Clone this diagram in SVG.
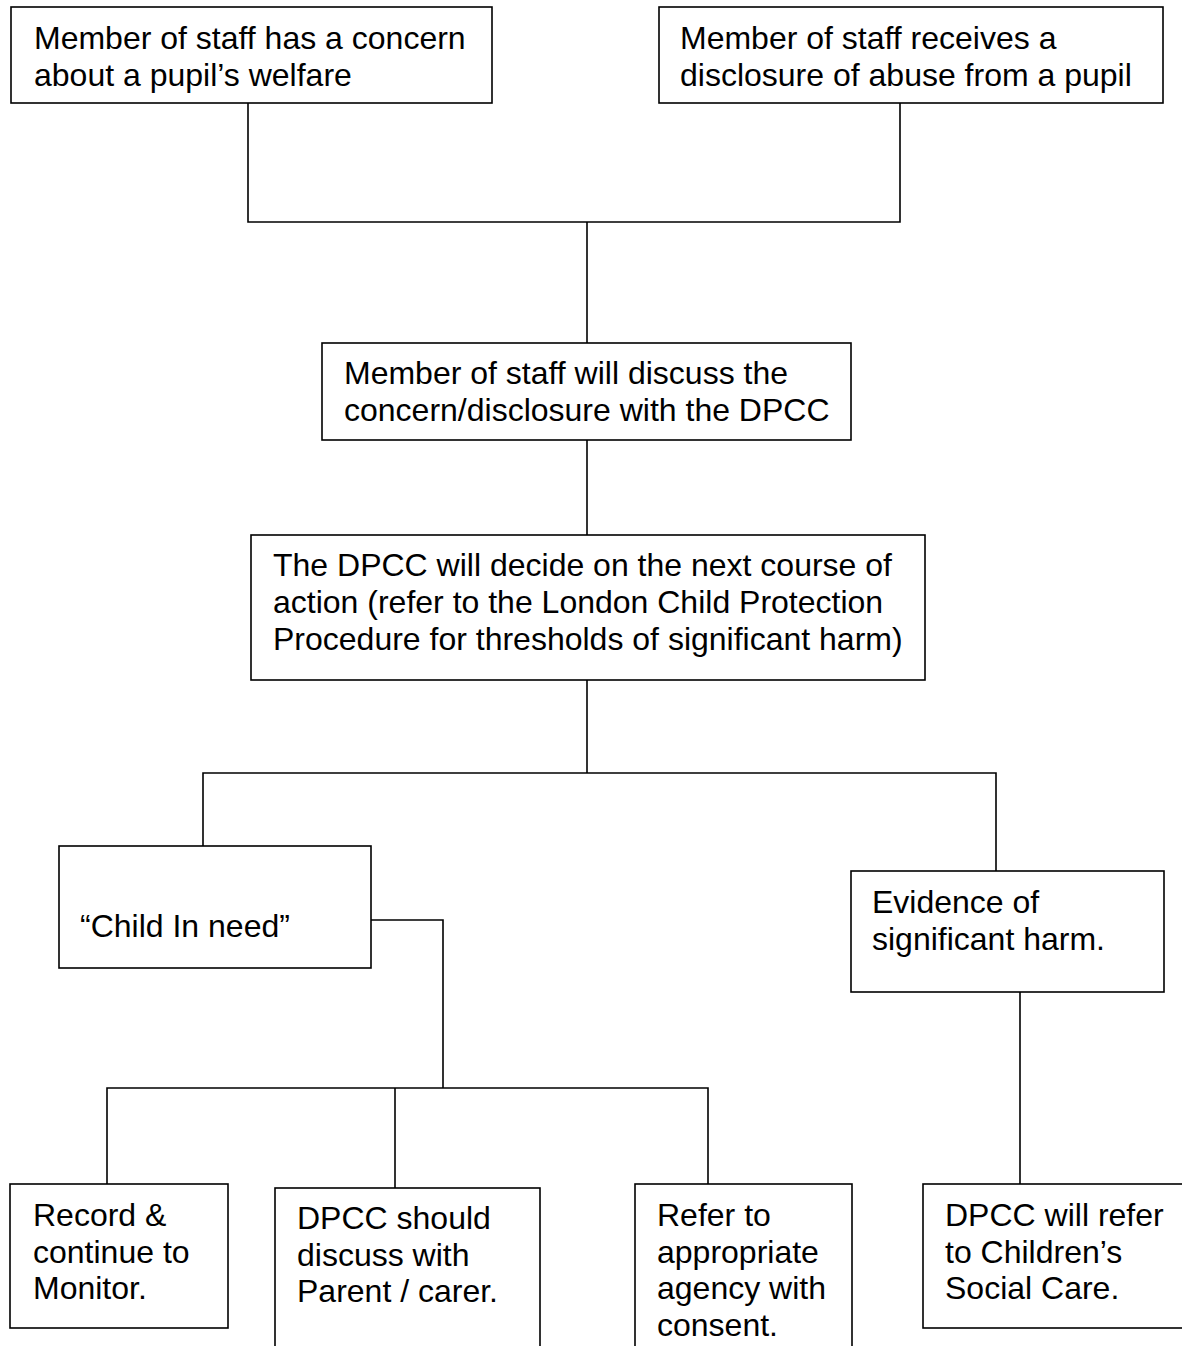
<svg xmlns="http://www.w3.org/2000/svg" width="1182" height="1346" viewBox="0 0 1182 1346">
<style>
.box{fill:#fff;stroke:#000;stroke-width:1.6}
.ln{fill:none;stroke:#000;stroke-width:1.6}
text{font-family:"Liberation Sans",Arial,sans-serif;font-size:32px;fill:#000}
</style>
<rect width="1182" height="1346" fill="#fff"/>
<g id="connectors">
<polyline class="ln" points="248,103 248,222 900,222 900,103"/>
<line class="ln" x1="587" y1="222" x2="587" y2="343"/>
<line class="ln" x1="587" y1="440" x2="587" y2="535"/>
<line class="ln" x1="587" y1="680" x2="587" y2="773"/>
<polyline class="ln" points="203,846 203,773 996,773 996,871"/>
<polyline class="ln" points="371,920 443,920 443,1088"/>
<polyline class="ln" points="107,1184 107,1088 708,1088 708,1184"/>
<line class="ln" x1="395" y1="1088" x2="395" y2="1188"/>
<line class="ln" x1="1020" y1="992" x2="1020" y2="1184"/>
</g>
<g id="n1"><rect class="box" x="11" y="7" width="481" height="96"/>
<text x="34" y="49">Member of staff has a concern</text><text x="34" y="86">about a pupil’s welfare</text></g>
<g id="n2"><rect class="box" x="659" y="7" width="504" height="96"/>
<text x="680" y="49">Member of staff receives a</text><text x="680" y="86">disclosure of abuse from a pupil</text></g>
<g id="n3"><rect class="box" x="322" y="343" width="529" height="97"/>
<text x="344" y="384">Member of staff will discuss the</text><text x="344" y="421">concern/disclosure with the DPCC</text></g>
<g id="n4"><rect class="box" x="251" y="535" width="674" height="145"/>
<text x="273" y="576">The DPCC will decide on the next course of</text><text x="273" y="613">action (refer to the London Child Protection</text><text x="273" y="650">Procedure for thresholds of significant harm)</text></g>
<g id="n5"><rect class="box" x="59" y="846" width="312" height="122"/>
<text x="80" y="937">“Child In need”</text></g>
<g id="n6"><rect class="box" x="851" y="871" width="313" height="121"/>
<text x="872" y="913">Evidence of</text><text x="872" y="950">significant harm.</text></g>
<g id="n7"><rect class="box" x="10" y="1184" width="218" height="144"/>
<text x="33" y="1226">Record &amp;</text><text x="33" y="1263">continue to</text><text x="33" y="1299">Monitor.</text></g>
<g id="n8"><rect class="box" x="275" y="1188" width="265" height="170"/>
<text x="297" y="1229">DPCC should</text><text x="297" y="1266">discuss with</text><text x="297" y="1302">Parent / carer.</text></g>
<g id="n9"><rect class="box" x="635" y="1184" width="217" height="175"/>
<text x="657" y="1226">Refer to</text><text x="657" y="1263">appropriate</text><text x="657" y="1299">agency with</text><text x="657" y="1336">consent.</text></g>
<g id="n10"><rect class="box" x="923" y="1184" width="270" height="144"/>
<text x="945" y="1226">DPCC will refer</text><text x="945" y="1263">to Children’s</text><text x="945" y="1299">Social Care.</text></g>
</svg>
